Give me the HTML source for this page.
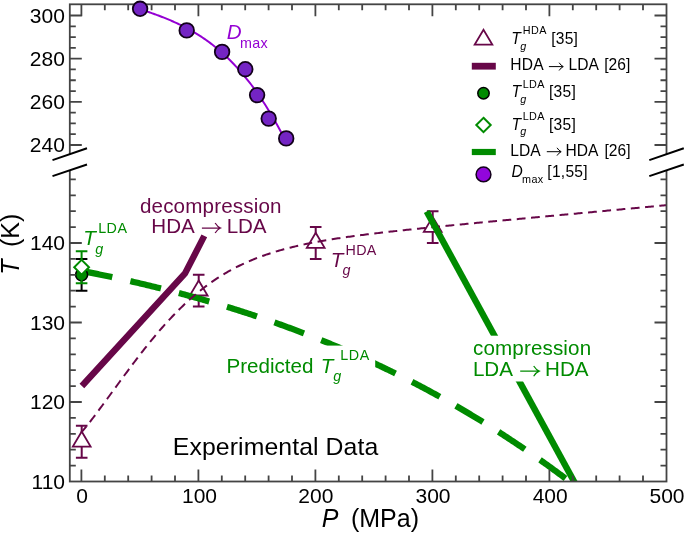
<!DOCTYPE html>
<html><head><meta charset="utf-8"><style>
html,body{margin:0;padding:0;background:#fff;width:685px;height:533px;overflow:hidden;}
svg{display:block;will-change:transform;}
text{font-family:"Liberation Sans",sans-serif;}
</style></head><body>
<svg width="685" height="533" viewBox="0 0 685 533">
<defs><clipPath id="clipL"><rect x="69.8" y="160" width="596.7" height="321.5"/></clipPath></defs>
<rect width="685" height="533" fill="#fff"/>
<path d="M75.90,425.85 H87.50 M81.70,425.85 V432.25 M81.70,446.55 V457.65 M75.90,457.65 H87.50" fill="none" stroke="#670748" stroke-width="2"/><path d="M81.70,431.55 L90.60,446.55 L72.80,446.55 Z" fill="none" stroke="#670748" stroke-width="1.8" stroke-linejoin="miter"/><path d="M192.90,274.80 H204.50 M198.70,274.80 V281.20 M198.70,295.50 V306.60 M192.90,306.60 H204.50" fill="none" stroke="#670748" stroke-width="2"/><path d="M198.70,280.50 L207.60,295.50 L189.80,295.50 Z" fill="none" stroke="#670748" stroke-width="1.8" stroke-linejoin="miter"/><path d="M309.90,227.10 H321.50 M315.70,227.10 V233.50 M315.70,247.80 V258.90 M309.90,258.90 H321.50" fill="none" stroke="#670748" stroke-width="2"/><path d="M315.70,232.80 L324.60,247.80 L306.80,247.80 Z" fill="none" stroke="#670748" stroke-width="1.8" stroke-linejoin="miter"/><path d="M426.90,211.20 H438.50 M432.70,211.20 V217.60 M432.70,231.90 V243.00 M426.90,243.00 H438.50" fill="none" stroke="#670748" stroke-width="2"/><path d="M432.70,216.90 L441.60,231.90 L423.80,231.90 Z" fill="none" stroke="#670748" stroke-width="1.8" stroke-linejoin="miter"/><path d="M81.40,270.83 L82.67,271.08 L83.95,271.33 L85.22,271.58 L86.50,271.83 L87.77,272.09 L89.05,272.34 L90.32,272.60 L91.60,272.85 L92.87,273.11 L94.15,273.37 L95.42,273.63 L96.70,273.89 L97.97,274.15 L99.25,274.42 L100.52,274.68 L101.79,274.94 L103.07,275.21 L104.34,275.48 L105.62,275.75 L106.89,276.01 L108.17,276.28 L109.44,276.56 L110.72,276.83 L111.99,277.10 L113.27,277.38 L114.54,277.65 L115.82,277.93 L117.09,278.21 L118.37,278.48 L119.64,278.76 L120.92,279.05 L122.19,279.33 L123.46,279.61 L124.74,279.90 L126.01,280.18 L127.29,280.47 L128.56,280.76 L129.84,281.04 L131.11,281.33 L132.39,281.63 L133.66,281.92 L134.94,282.21 L136.21,282.51 L137.49,282.80 L138.76,283.10 L140.04,283.40 L141.31,283.70 L142.58,284.00 L143.86,284.30 L145.13,284.60 L146.41,284.91 L147.68,285.21 L148.96,285.52 L150.23,285.83 L151.51,286.14 L152.78,286.45 L154.06,286.76 L155.33,287.07 L156.61,287.39 L157.88,287.70 L159.16,288.02 L160.43,288.34 L161.71,288.65 L162.98,288.98 L164.25,289.30 L165.53,289.62 L166.80,289.94 L168.08,290.27 L169.35,290.60 L170.63,290.92 L171.90,291.25 L173.18,291.58 L174.45,291.92 L175.73,292.25 L177.00,292.59 L178.28,292.92 L179.55,293.26 L180.83,293.60 L182.10,293.94 L183.37,294.28 L184.65,294.62 L185.92,294.97 L187.20,295.31 L188.47,295.66 L189.75,296.01 L191.02,296.36 L192.30,296.71 L193.57,297.06 L194.85,297.41 L196.12,297.77 L197.40,298.12 L198.67,298.48 L199.95,298.84 L201.22,299.20 L202.50,299.56 L203.77,299.93 L205.04,300.29 L206.32,300.66 L207.59,301.03 L208.87,301.40 L210.14,301.77 L211.42,302.14 L212.69,302.51 L213.97,302.89 L215.24,303.26 L216.52,303.64 L217.79,304.02 L219.07,304.40 L220.34,304.78 L221.62,305.17 L222.89,305.55 L224.16,305.94 L225.44,306.33 L226.71,306.72 L227.99,307.11 L229.26,307.50 L230.54,307.90 L231.81,308.29 L233.09,308.69 L234.36,309.09 L235.64,309.49 L236.91,309.89 L238.19,310.30 L239.46,310.70 L240.74,311.11 L242.01,311.52 L243.29,311.92 L244.56,312.34 L245.83,312.75 L247.11,313.16 L248.38,313.58 L249.66,314.00 L250.93,314.42 L252.21,314.84 L253.48,315.26 L254.76,315.68 L256.03,316.11 L257.31,316.54 L258.58,316.97 L259.86,317.40 L261.13,317.83 L262.41,318.26 L263.68,318.70 L264.95,319.14 L266.23,319.57 L267.50,320.01 L268.78,320.46 L270.05,320.90 L271.33,321.35 L272.60,321.79 L273.88,322.24 L275.15,322.69 L276.43,323.14 L277.70,323.60 L278.98,324.05 L280.25,324.51 L281.53,324.97 L282.80,325.43 L284.08,325.89 L285.35,326.36 L286.62,326.82 L287.90,327.29 L289.17,327.76 L290.45,328.23 L291.72,328.70 L293.00,329.18 L294.27,329.65 L295.55,330.13 L296.82,330.61 L298.10,331.09 L299.37,331.58 L300.65,332.06 L301.92,332.55 L303.20,333.04 L304.47,333.53 L305.74,334.02 L307.02,334.51 L308.29,335.01 L309.57,335.51 L310.84,336.01 L312.12,336.51 L313.39,337.01 L314.67,337.51 L315.94,338.02 L317.22,338.53 L318.49,339.04 L319.77,339.55 L321.04,340.07 L322.32,340.58 L323.59,341.10 L324.87,341.62 L326.14,342.14 L327.41,342.66 L328.69,343.19 L329.96,343.72 L331.24,344.25 L332.51,344.78 L333.79,345.31 L335.06,345.84 L336.34,346.38 L337.61,346.92 L338.89,347.46 L340.16,348.00 L341.44,348.55 L342.71,349.09 L343.99,349.64 L345.26,350.19 L346.53,350.74 L347.81,351.30 L349.08,351.85 L350.36,352.41 L351.63,352.97 L352.91,353.53 L354.18,354.10 L355.46,354.66 L356.73,355.23 L358.01,355.80 L359.28,356.37 L360.56,356.95 L361.83,357.52 L363.11,358.10 L364.38,358.68 L365.66,359.26 L366.93,359.84 L368.20,360.43 L369.48,361.02 L370.75,361.61 L372.03,362.20 L373.30,362.79 L374.58,363.39 L375.85,363.99 L377.13,364.59 L378.40,365.19 L379.68,365.79 L380.95,366.40 L382.23,367.01 L383.50,367.62 L384.78,368.23 L386.05,368.85 L387.32,369.46 L388.60,370.08 L389.87,370.70 L391.15,371.33 L392.42,371.95 L393.70,372.58 L394.97,373.21 L396.25,373.84 L397.52,374.47 L398.80,375.11 L400.07,375.75 L401.35,376.39 L402.62,377.03 L403.90,377.67 L405.17,378.32 L406.45,378.97 L407.72,379.62 L408.99,380.27 L410.27,380.93 L411.54,381.58 L412.82,382.24 L414.09,382.91 L415.37,383.57 L416.64,384.24 L417.92,384.90 L419.19,385.58 L420.47,386.25 L421.74,386.92 L423.02,387.60 L424.29,388.28 L425.57,388.96 L426.84,389.65 L428.11,390.33 L429.39,391.02 L430.66,391.71 L431.94,392.40 L433.21,393.10 L434.49,393.80 L435.76,394.50 L437.04,395.20 L438.31,395.90 L439.59,396.61 L440.86,397.32 L442.14,398.03 L443.41,398.74 L444.69,399.46 L445.96,400.18 L447.24,400.90 L448.51,401.62 L449.78,402.34 L451.06,403.07 L452.33,403.80 L453.61,404.53 L454.88,405.27 L456.16,406.00 L457.43,406.74 L458.71,407.48 L459.98,408.23 L461.26,408.97 L462.53,409.72 L463.81,410.47 L465.08,411.23 L466.36,411.98 L467.63,412.74 L468.90,413.50 L470.18,414.26 L471.45,415.03 L472.73,415.80 L474.00,416.57 L475.28,417.34 L476.55,418.11 L477.83,418.89 L479.10,419.67 L480.38,420.45 L481.65,421.24 L482.93,422.03 L484.20,422.82 L485.48,423.61 L486.75,424.40 L488.03,425.20 L489.30,426.00 L490.57,426.80 L491.85,427.60 L493.12,428.41 L494.40,429.22 L495.67,430.03 L496.95,430.85 L498.22,431.66 L499.50,432.48 L500.77,433.30 L502.05,434.13 L503.32,434.96 L504.60,435.78 L505.87,436.62 L507.15,437.45 L508.42,438.29 L509.69,439.13 L510.97,439.97 L512.24,440.81 L513.52,441.66 L514.79,442.51 L516.07,443.36 L517.34,444.22 L518.62,445.08 L519.89,445.94 L521.17,446.80 L522.44,447.66 L523.72,448.53 L524.99,449.40 L526.27,450.27 L527.54,451.15 L528.82,452.03 L530.09,452.91 L531.36,453.79 L532.64,454.68 L533.91,455.57 L535.19,456.46 L536.46,457.35 L537.74,458.25 L539.01,459.15 L540.29,460.05 L541.56,460.95 L542.84,461.86 L544.11,462.77 L545.39,463.68 L546.66,464.60 L547.94,465.52 L549.21,466.44 L550.48,467.36 L551.76,468.29 L553.03,469.22 L554.31,470.15 L555.58,471.08 L556.86,472.02 L558.13,472.96 L559.41,473.90 L560.68,474.85 L561.96,475.79 L563.23,476.74 L564.51,477.70 L565.78,478.65 L567.06,479.61 L568.33,480.57 L569.61,481.54 L570.88,482.51 L572.15,483.48 L573.43,484.45 L574.70,485.42 L575.98,486.40 L577.25,487.38 L578.53,488.37 L579.80,489.35 L581.08,490.34 L582.35,491.33 L583.63,492.33 L584.90,493.33 L586.18,494.33 L587.45,495.33 L588.73,496.34 L590.00,497.35" fill="none" stroke="#008b00" stroke-width="6.2" stroke-dasharray="31.5 18.5" clip-path="url(#clipL)"/><path d="M75.80,258.90 H87.40 M81.60,258.90 V290.70 M75.80,290.70 H87.40" fill="none" stroke="#000" stroke-width="2"/><circle cx="81.60" cy="274.80" r="6" fill="#008b00" stroke="#000" stroke-width="1.6"/><path d="M75.80,251.35 H87.40 M81.60,251.35 V283.15 M75.80,283.15 H87.40" fill="none" stroke="#008b00" stroke-width="2"/><path d="M81.60,259.85 L89.00,267.25 L81.60,274.65 L74.20,267.25 Z" fill="#fff" stroke="#008b00" stroke-width="2"/><path d="M81.40,432.25 L82.87,430.67 L84.33,428.94 L85.80,427.15 L87.26,425.32 L88.73,423.47 L90.20,421.58 L91.66,419.68 L93.13,417.76 L94.60,415.82 L96.06,413.88 L97.53,411.92 L98.99,409.95 L100.46,407.97 L101.93,405.99 L103.39,404.00 L104.86,402.01 L106.32,400.01 L107.79,398.00 L109.26,396.00 L110.72,393.99 L112.19,391.99 L113.66,389.98 L115.12,387.97 L116.59,385.97 L118.05,383.97 L119.52,381.97 L120.99,379.97 L122.45,377.98 L123.92,375.99 L125.38,374.01 L126.85,372.03 L128.32,370.06 L129.78,368.10 L131.25,366.14 L132.72,364.19 L134.18,362.25 L135.65,360.33 L137.11,358.41 L138.58,356.50 L140.05,354.60 L141.51,352.71 L142.98,350.84 L144.45,348.98 L145.91,347.13 L147.38,345.30 L148.84,343.47 L150.31,341.67 L151.78,339.87 L153.24,338.10 L154.71,336.34 L156.17,334.59 L157.64,332.86 L159.11,331.15 L160.57,329.45 L162.04,327.77 L163.51,326.11 L164.97,324.46 L166.44,322.83 L167.90,321.23 L169.37,319.64 L170.84,318.06 L172.30,316.51 L173.77,314.98 L175.23,313.46 L176.70,311.97 L178.17,310.49 L179.63,309.03 L181.10,307.59 L182.57,306.18 L184.03,304.78 L185.50,303.40 L186.96,302.04 L188.43,300.70 L189.90,299.38 L191.36,298.08 L192.83,296.80 L194.29,295.54 L195.76,294.30 L197.23,293.08 L198.69,291.87 L200.16,290.69 L201.63,289.53 L203.09,288.38 L204.56,287.26 L206.02,286.15 L207.49,285.06 L208.96,283.99 L210.42,282.94 L211.89,281.91 L213.35,280.90 L214.82,279.90 L216.29,278.92 L217.75,277.96 L219.22,277.02 L220.69,276.09 L222.15,275.18 L223.62,274.29 L225.08,273.42 L226.55,272.56 L228.02,271.71 L229.48,270.89 L230.95,270.07 L232.42,269.28 L233.88,268.50 L235.35,267.73 L236.81,266.98 L238.28,266.24 L239.75,265.52 L241.21,264.81 L242.68,264.12 L244.14,263.44 L245.61,262.77 L247.08,262.11 L248.54,261.47 L250.01,260.84 L251.48,260.22 L252.94,259.62 L254.41,259.03 L255.87,258.44 L257.34,257.87 L258.81,257.32 L260.27,256.77 L261.74,256.23 L263.20,255.70 L264.67,255.19 L266.14,254.68 L267.60,254.18 L269.07,253.70 L270.54,253.22 L272.00,252.75 L273.47,252.29 L274.93,251.84 L276.40,251.40 L277.87,250.97 L279.33,250.54 L280.80,250.12 L282.26,249.71 L283.73,249.31 L285.20,248.92 L286.66,248.53 L288.13,248.15 L289.60,247.77 L291.06,247.41 L292.53,247.05 L293.99,246.69 L295.46,246.35 L296.93,246.00 L298.39,245.67 L299.86,245.34 L301.32,245.02 L302.79,244.70 L304.26,244.38 L305.72,244.07 L307.19,243.77 L308.66,243.47 L310.12,243.18 L311.59,242.89 L313.05,242.61 L314.52,242.33 L315.99,242.05 L317.45,241.78 L318.92,241.51 L320.38,241.25 L321.85,240.99 L323.32,240.73 L324.78,240.48 L326.25,240.23 L327.72,239.99 L329.18,239.74 L330.65,239.51 L332.11,239.27 L333.58,239.04 L335.05,238.81 L336.51,238.58 L337.98,238.36 L339.45,238.14 L340.91,237.92 L342.38,237.70 L343.84,237.49 L345.31,237.28 L346.78,237.07 L348.24,236.86 L349.71,236.66 L351.17,236.45 L352.64,236.25 L354.11,236.06 L355.57,235.86 L357.04,235.67 L358.51,235.47 L359.97,235.28 L361.44,235.09 L362.90,234.91 L364.37,234.72 L365.84,234.54 L367.30,234.35 L368.77,234.17 L370.23,233.99 L371.70,233.82 L373.17,233.64 L374.63,233.46 L376.10,233.29 L377.57,233.12 L379.03,232.94 L380.50,232.77 L381.96,232.60 L383.43,232.43 L384.90,232.27 L386.36,232.10 L387.83,231.94 L389.29,231.77 L390.76,231.61 L392.23,231.44 L393.69,231.28 L395.16,231.12 L396.63,230.96 L398.09,230.80 L399.56,230.64 L401.02,230.49 L402.49,230.33 L403.96,230.17 L405.42,230.02 L406.89,229.86 L408.35,229.71 L409.82,229.55 L411.29,229.40 L412.75,229.25 L414.22,229.09 L415.69,228.94 L417.15,228.79 L418.62,228.64 L420.08,228.49 L421.55,228.34 L423.02,228.19 L424.48,228.04 L425.95,227.89 L427.42,227.74 L428.88,227.60 L430.35,227.45 L431.81,227.30 L433.28,227.16 L434.75,227.01 L436.21,226.86 L437.68,226.72 L439.14,226.57 L440.61,226.43 L442.08,226.28 L443.54,226.14 L445.01,225.99 L446.48,225.85 L447.94,225.71 L449.41,225.56 L450.87,225.42 L452.34,225.28 L453.81,225.13 L455.27,224.99 L456.74,224.85 L458.20,224.71 L459.67,224.56 L461.14,224.42 L462.60,224.28 L464.07,224.14 L465.54,224.00 L467.00,223.86 L468.47,223.72 L469.93,223.58 L471.40,223.43 L472.87,223.29 L474.33,223.15 L475.80,223.01 L477.26,222.87 L478.73,222.73 L480.20,222.59 L481.66,222.45 L483.13,222.31 L484.60,222.17 L486.06,222.04 L487.53,221.90 L488.99,221.76 L490.46,221.62 L491.93,221.48 L493.39,221.34 L494.86,221.20 L496.32,221.06 L497.79,220.92 L499.26,220.78 L500.72,220.65 L502.19,220.51 L503.66,220.37 L505.12,220.23 L506.59,220.09 L508.05,219.95 L509.52,219.82 L510.99,219.68 L512.45,219.54 L513.92,219.40 L515.38,219.26 L516.85,219.13 L518.32,218.99 L519.78,218.85 L521.25,218.71 L522.72,218.57 L524.18,218.44 L525.65,218.30 L527.11,218.16 L528.58,218.02 L530.05,217.89 L531.51,217.75 L532.98,217.61 L534.45,217.47 L535.91,217.34 L537.38,217.20 L538.84,217.06 L540.31,216.92 L541.78,216.79 L543.24,216.65 L544.71,216.51 L546.17,216.37 L547.64,216.24 L549.11,216.10 L550.57,215.96 L552.04,215.83 L553.51,215.69 L554.97,215.55 L556.44,215.41 L557.90,215.28 L559.37,215.14 L560.84,215.00 L562.30,214.87 L563.77,214.73 L565.23,214.59 L566.70,214.46 L568.17,214.32 L569.63,214.18 L571.10,214.04 L572.57,213.91 L574.03,213.77 L575.50,213.63 L576.96,213.50 L578.43,213.36 L579.90,213.22 L581.36,213.09 L582.83,212.95 L584.29,212.81 L585.76,212.67 L587.23,212.54 L588.69,212.40 L590.16,212.26 L591.63,212.13 L593.09,211.99 L594.56,211.85 L596.02,211.72 L597.49,211.58 L598.96,211.44 L600.42,211.31 L601.89,211.17 L603.35,211.03 L604.82,210.90 L606.29,210.76 L607.75,210.62 L609.22,210.49 L610.69,210.35 L612.15,210.21 L613.62,210.08 L615.08,209.94 L616.55,209.80 L618.02,209.67 L619.48,209.53 L620.95,209.39 L622.42,209.26 L623.88,209.12 L625.35,208.98 L626.81,208.85 L628.28,208.71 L629.75,208.57 L631.21,208.43 L632.68,208.30 L634.14,208.16 L635.61,208.02 L637.08,207.89 L638.54,207.75 L640.01,207.61 L641.48,207.48 L642.94,207.34 L644.41,207.20 L645.87,207.07 L647.34,206.93 L648.81,206.79 L650.27,206.66 L651.74,206.52 L653.20,206.38 L654.67,206.25 L656.14,206.11 L657.60,205.97 L659.07,205.84 L660.54,205.70 L662.00,205.56 L663.47,205.43 L664.93,205.29 L666.40,205.15" fill="none" stroke="#670748" stroke-width="2" stroke-dasharray="8.8 5.52" stroke-dashoffset="1.09"/><polyline points="81.9,386 185,273.5 204.3,235.9" fill="none" stroke="#670748" stroke-width="6.4" stroke-linejoin="miter"/><line x1="426.7" y1="211.5" x2="578.7" y2="490.0" stroke="#008b00" stroke-width="6.4" clip-path="url(#clipL)"/>
<text x="139.92" y="212.50" font-size="20.6" fill="#670748" textLength="141.59" lengthAdjust="spacing">decompression</text><text x="151.30" y="232.50" font-size="20.6" fill="#670748">HDA</text><path d="M201.90,228.00 H220.10 M215.11,222.98 Q217.53,226.74 220.50,228.00 Q217.53,229.26 215.11,233.02" fill="none" stroke="#670748" stroke-width="1.25" stroke-linecap="butt" stroke-linejoin="miter"/><text x="226.80" y="232.50" font-size="20.6" fill="#670748" textLength="39.76" lengthAdjust="spacing">LDA</text><text x="83.15" y="245.40" font-size="20.6" fill="#008b00" font-style="italic">T</text><text x="95.26" y="253.80" font-size="14.3" fill="#008b00" font-style="italic">g</text><text x="98.22" y="233.20" font-size="14.3" fill="#008b00" textLength="28.72" lengthAdjust="spacing">LDA</text><text x="330.75" y="266.80" font-size="20.6" fill="#670748" font-style="italic">T</text><text x="342.56" y="275.20" font-size="14.3" fill="#670748" font-style="italic">g</text><text x="345.62" y="254.50" font-size="14.3" fill="#670748" textLength="30.60" lengthAdjust="spacing">HDA</text><rect x="224" y="345.6" width="151.2" height="42" fill="#fff"/><text x="226.50" y="372.80" font-size="20.6" fill="#008b00">Predicted</text><text x="320.75" y="372.80" font-size="20.6" fill="#008b00" font-style="italic">T</text><text x="333.26" y="381.20" font-size="14.3" fill="#008b00" font-style="italic">g</text><text x="340.32" y="359.90" font-size="14.3" fill="#008b00" textLength="29.02" lengthAdjust="spacing">LDA</text><rect x="468" y="335.7" width="126" height="45.8" fill="#fff"/><text x="473.02" y="355.40" font-size="20.6" fill="#008b00" textLength="118.10" lengthAdjust="spacing">compression</text><text x="472.90" y="375.80" font-size="20.6" fill="#008b00">LDA</text><path d="M520.20,371.10 H538.80 M533.69,365.97 Q536.17,369.82 539.20,371.10 Q536.17,372.38 533.69,376.23" fill="none" stroke="#008b00" stroke-width="1.25" stroke-linecap="butt" stroke-linejoin="miter"/><text x="545.10" y="375.80" font-size="20.6" fill="#008b00">HDA</text><text x="172.85" y="454.60" font-size="24.8" fill="#000" textLength="205.42" lengthAdjust="spacing">Experimental Data</text>
<rect x="69.8" y="4.3" width="596.7" height="477.2" fill="none" stroke="#444" stroke-width="1.8"/><path d="M69.80,144.98H81.80M654.50,144.98H666.50M69.80,134.19H75.80M660.50,134.19H666.50M69.80,123.40H75.80M660.50,123.40H666.50M69.80,112.61H75.80M660.50,112.61H666.50M69.80,101.82H81.80M654.50,101.82H666.50M69.80,91.03H75.80M660.50,91.03H666.50M69.80,80.24H75.80M660.50,80.24H666.50M69.80,69.45H75.80M660.50,69.45H666.50M69.80,58.66H81.80M654.50,58.66H666.50M69.80,47.87H75.80M660.50,47.87H666.50M69.80,37.08H75.80M660.50,37.08H666.50M69.80,26.29H75.80M660.50,26.29H666.50M69.80,15.50H81.80M654.50,15.50H666.50M69.80,465.60H75.80M660.50,465.60H666.50M69.80,449.70H75.80M660.50,449.70H666.50M69.80,433.80H75.80M660.50,433.80H666.50M69.80,417.90H75.80M660.50,417.90H666.50M69.80,402.00H81.80M654.50,402.00H666.50M69.80,386.10H75.80M660.50,386.10H666.50M69.80,370.20H75.80M660.50,370.20H666.50M69.80,354.30H75.80M660.50,354.30H666.50M69.80,338.40H75.80M660.50,338.40H666.50M69.80,322.50H81.80M654.50,322.50H666.50M69.80,306.60H75.80M660.50,306.60H666.50M69.80,290.70H75.80M660.50,290.70H666.50M69.80,274.80H75.80M660.50,274.80H666.50M69.80,258.90H75.80M660.50,258.90H666.50M69.80,243.00H81.80M654.50,243.00H666.50M69.80,227.10H75.80M660.50,227.10H666.50M69.80,211.20H75.80M660.50,211.20H666.50M69.80,195.30H75.80M660.50,195.30H666.50M69.80,179.40H75.80M660.50,179.40H666.50M81.40,481.50V469.50M81.40,4.30V16.30M104.80,481.50V475.50M104.80,4.30V10.30M128.20,481.50V475.50M128.20,4.30V10.30M151.60,481.50V475.50M151.60,4.30V10.30M175.00,481.50V475.50M175.00,4.30V10.30M198.40,481.50V469.50M198.40,4.30V16.30M221.80,481.50V475.50M221.80,4.30V10.30M245.20,481.50V475.50M245.20,4.30V10.30M268.60,481.50V475.50M268.60,4.30V10.30M292.00,481.50V475.50M292.00,4.30V10.30M315.40,481.50V469.50M315.40,4.30V16.30M338.80,481.50V475.50M338.80,4.30V10.30M362.20,481.50V475.50M362.20,4.30V10.30M385.60,481.50V475.50M385.60,4.30V10.30M409.00,481.50V475.50M409.00,4.30V10.30M432.40,481.50V469.50M432.40,4.30V16.30M455.80,481.50V475.50M455.80,4.30V10.30M479.20,481.50V475.50M479.20,4.30V10.30M502.60,481.50V475.50M502.60,4.30V10.30M526.00,481.50V475.50M526.00,4.30V10.30M549.40,481.50V469.50M549.40,4.30V16.30M572.80,481.50V475.50M572.80,4.30V10.30M596.20,481.50V475.50M596.20,4.30V10.30M619.60,481.50V475.50M619.60,4.30V10.30M643.00,481.50V475.50M643.00,4.30V10.30" stroke="#444" stroke-width="1.8" fill="none"/><path d="M52.5,160.1 L87.0,148.3 L87.0,164.5 L52.5,176.1 Z" fill="#fff" stroke="none"/><path d="M52.5,160.1 L87.0,148.3 M52.5,176.1 L87.0,164.5" stroke="#000" stroke-width="2" fill="none"/><path d="M649.3,160.1 L683.8,148.3 L683.8,164.5 L649.3,176.1 Z" fill="#fff" stroke="none"/><path d="M649.3,160.1 L683.8,148.3 M649.3,176.1 L683.8,164.5" stroke="#000" stroke-width="2" fill="none"/>
<path d="M140.10,9.19 L141.32,9.59 L142.54,10.00 L143.77,10.40 L144.99,10.82 L146.21,11.23 L147.43,11.64 L148.65,12.06 L149.87,12.49 L151.10,12.91 L152.32,13.34 L153.54,13.78 L154.76,14.21 L155.98,14.66 L157.21,15.11 L158.43,15.56 L159.65,16.02 L160.87,16.48 L162.09,16.95 L163.32,17.43 L164.54,17.91 L165.76,18.40 L166.98,18.90 L168.20,19.40 L169.42,19.91 L170.65,20.43 L171.87,20.96 L173.09,21.49 L174.31,22.04 L175.53,22.59 L176.76,23.15 L177.98,23.72 L179.20,24.30 L180.42,24.90 L181.64,25.50 L182.86,26.11 L184.09,26.73 L185.31,27.36 L186.53,28.00 L187.75,28.66 L188.97,29.33 L190.20,30.00 L191.42,30.69 L192.64,31.40 L193.86,32.11 L195.08,32.84 L196.31,33.58 L197.53,34.34 L198.75,35.11 L199.97,35.89 L201.19,36.69 L202.41,37.50 L203.64,38.32 L204.86,39.16 L206.08,40.02 L207.30,40.89 L208.52,41.78 L209.75,42.68 L210.97,43.60 L212.19,44.54 L213.41,45.49 L214.63,46.46 L215.85,47.45 L217.08,48.45 L218.30,49.48 L219.52,50.52 L220.74,51.58 L221.96,52.65 L223.19,53.75 L224.41,54.87 L225.63,56.00 L226.85,57.16 L228.07,58.33 L229.29,59.53 L230.52,60.74 L231.74,61.98 L232.96,63.23 L234.18,64.51 L235.40,65.81 L236.63,67.13 L237.85,68.47 L239.07,69.84 L240.29,71.22 L241.51,72.64 L242.74,74.07 L243.96,75.52 L245.18,77.00 L246.40,78.51 L247.62,80.04 L248.84,81.59 L250.07,83.16 L251.29,84.76 L252.51,86.39 L253.73,88.04 L254.95,89.72 L256.18,91.42 L257.40,93.15 L258.62,94.91 L259.84,96.69 L261.06,98.50 L262.28,100.33 L263.51,102.19 L264.73,104.08 L265.95,106.00 L267.17,107.95 L268.39,109.92 L269.62,111.93 L270.84,113.96 L272.06,116.02 L273.28,118.11 L274.50,120.23 L275.73,122.38 L276.95,124.56 L278.17,126.78 L279.39,129.02 L280.61,131.29 L281.83,133.60 L283.06,135.93 L284.28,138.30 L285.50,140.70" fill="none" stroke="#9400d3" stroke-width="2"/><circle cx="140.1" cy="8.8" r="7.3" fill="#7424c4" stroke="#12001a" stroke-width="1.8"/><circle cx="186.7" cy="30.4" r="7.3" fill="#7424c4" stroke="#12001a" stroke-width="1.8"/><circle cx="222.1" cy="51.9" r="7.3" fill="#7424c4" stroke="#12001a" stroke-width="1.8"/><circle cx="245.3" cy="69.2" r="7.3" fill="#7424c4" stroke="#12001a" stroke-width="1.8"/><circle cx="257.1" cy="95.1" r="7.3" fill="#7424c4" stroke="#12001a" stroke-width="1.8"/><circle cx="268.7" cy="118.6" r="7.3" fill="#7424c4" stroke="#12001a" stroke-width="1.8"/><circle cx="286.2" cy="138.4" r="7.3" fill="#7424c4" stroke="#12001a" stroke-width="1.8"/><text x="226.68" y="38.90" font-size="20.6" fill="#9400d3" font-style="italic">D</text><text x="240.03" y="47.50" font-size="14.3" fill="#9400d3" textLength="27.63" lengthAdjust="spacing">max</text>
<path d="M483.50,29.7 L492.40,44.7 L474.60,44.7 Z" fill="none" stroke="#670748" stroke-width="1.7" stroke-linejoin="miter"/><text x="511.20" y="44.20" font-size="15.6" fill="#000" font-style="italic">T</text><text x="520.17" y="49.90" font-size="10.8" fill="#000" font-style="italic">g</text><text x="522.81" y="34.30" font-size="10.8" fill="#000" textLength="23.71" lengthAdjust="spacing">HDA</text><text x="551.21" y="44.20" font-size="15.6" fill="#000" textLength="26.69" lengthAdjust="spacing">[35]</text><line x1="471.8" y1="66.2" x2="495.8" y2="66.2" stroke="#670748" stroke-width="6.8"/><text x="510.31" y="70.20" font-size="15.6" fill="#000" textLength="33.31" lengthAdjust="spacing">HDA</text><path d="M548.90,66.60 H562.90 M559.12,62.71 Q561.00,65.63 563.30,66.60 Q561.00,67.57 559.12,70.49" fill="none" stroke="#000" stroke-width="1.0" stroke-linecap="butt" stroke-linejoin="miter"/><text x="568.61" y="70.20" font-size="15.6" fill="#000">LDA</text><text x="604.21" y="70.20" font-size="15.6" fill="#000">[26]</text><circle cx="483.5" cy="93.3" r="5.7" fill="#008b00" stroke="#000" stroke-width="1.5"/><text x="511.60" y="97.40" font-size="15.6" fill="#000" font-style="italic">T</text><text x="520.37" y="103.10" font-size="10.8" fill="#000" font-style="italic">g</text><text x="522.81" y="87.90" font-size="10.8" fill="#000" textLength="21.52" lengthAdjust="spacing">LDA</text><text x="548.91" y="97.40" font-size="15.6" fill="#000" textLength="26.89" lengthAdjust="spacing">[35]</text><path d="M483.50,117.80 L490.70,125.00 L483.50,132.20 L476.30,125.00 Z" fill="none" stroke="#008b00" stroke-width="2"/><text x="511.60" y="129.50" font-size="15.6" fill="#000" font-style="italic">T</text><text x="520.37" y="135.20" font-size="10.8" fill="#000" font-style="italic">g</text><text x="522.81" y="120.00" font-size="10.8" fill="#000" textLength="21.52" lengthAdjust="spacing">LDA</text><text x="548.91" y="129.50" font-size="15.6" fill="#000" textLength="26.89" lengthAdjust="spacing">[35]</text><line x1="471.8" y1="152.0" x2="495.8" y2="152.0" stroke="#008b00" stroke-width="6.2"/><text x="510.31" y="155.70" font-size="15.6" fill="#000">LDA</text><path d="M546.80,151.70 H560.80 M557.02,147.81 Q558.90,150.73 561.20,151.70 Q558.90,152.67 557.02,155.59" fill="none" stroke="#000" stroke-width="1.0" stroke-linecap="butt" stroke-linejoin="miter"/><text x="565.41" y="155.70" font-size="15.6" fill="#000">HDA</text><text x="604.51" y="155.70" font-size="15.6" fill="#000">[26]</text><circle cx="483.5" cy="174.4" r="7.4" fill="#9206dc" stroke="#12001a" stroke-width="1.5"/><text x="511.53" y="176.80" font-size="15.6" fill="#000" font-style="italic">D</text><text x="521.97" y="183.00" font-size="10.8" fill="#000" textLength="21.26" lengthAdjust="spacing">max</text><text x="547.31" y="176.80" font-size="15.6" fill="#000" textLength="40.28" lengthAdjust="spacing">[1,55]</text>
<text x="29.87" y="22.70" font-size="21" fill="#000">300</text><text x="29.87" y="65.86" font-size="21" fill="#000">280</text><text x="29.87" y="109.02" font-size="21" fill="#000">260</text><text x="29.87" y="152.18" font-size="21" fill="#000">240</text><text x="29.97" y="250.20" font-size="21" fill="#000">140</text><text x="29.97" y="329.70" font-size="21" fill="#000">130</text><text x="29.97" y="409.20" font-size="21" fill="#000">120</text><text x="31.55" y="488.70" font-size="21" fill="#000">110</text><text x="76.15" y="502.50" font-size="21" fill="#000">0</text><text x="182.00" y="502.50" font-size="21" fill="#000">100</text><text x="298.36" y="502.50" font-size="21" fill="#000">200</text><text x="415.49" y="502.50" font-size="21" fill="#000">300</text><text x="532.65" y="502.50" font-size="21" fill="#000">400</text><text x="649.46" y="502.50" font-size="21" fill="#000">500</text><g transform="translate(18.9,274.7) rotate(-90)"><text x="0" y="0" font-size="25" font-style="italic">T</text><text x="27.65" y="0" font-size="25">(K)</text></g><text x="321.65" y="526.80" font-size="25" fill="#000" font-style="italic">P</text><text x="350.94" y="526.80" font-size="25" fill="#000">(MPa)</text>
</svg>
</body></html>
